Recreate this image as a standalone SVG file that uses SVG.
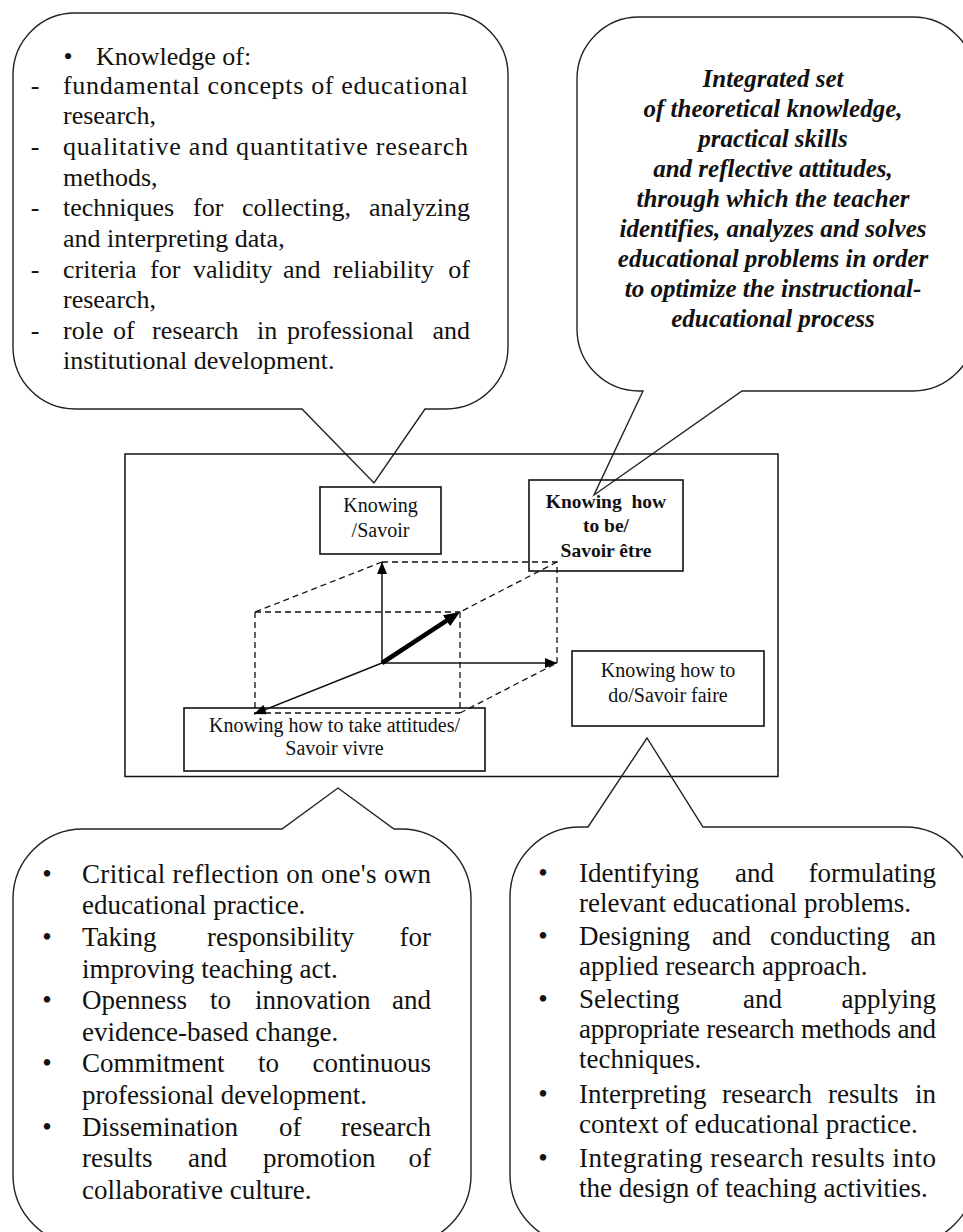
<svg xmlns="http://www.w3.org/2000/svg" width="963" height="1232" viewBox="0 0 963 1232">
<style>
  .bg { fill: #ffffff; }
  .callout { fill: none; stroke: #222; stroke-width: 1.4; stroke-linejoin: miter; }
  .box { fill: none; stroke: #111; stroke-width: 1.6; }
  .frame { fill: none; stroke: #111; stroke-width: 1.5; }
  .dash { fill: none; stroke: #111; stroke-width: 1.3; stroke-dasharray: 6 4; }
  .arrow { fill: none; stroke: #111; stroke-width: 1.5; }
  .thick { fill: none; stroke: #000; stroke-width: 4.5; }
  .t { font-family: "Liberation Serif", "Times New Roman", serif; fill: #111; }
  .tl { font-size: 26px; }
  .bt { font-size: 27px; }
  .def { font-size: 25px; font-weight: bold; font-style: italic; text-anchor: middle; }
  .lab { font-size: 20px; text-anchor: middle; }
  .labb { font-size: 19.5px; font-weight: bold; text-anchor: middle; }
  .mid { text-anchor: middle; }
  .end { text-anchor: end; }
</style>
<defs>
  <marker id="ah" markerUnits="userSpaceOnUse" markerWidth="13" markerHeight="10" refX="12" refY="5" orient="auto">
    <path d="M0,0 L12,5 L0,10 z" fill="#000"/>
  </marker>
  <marker id="ahThick" markerUnits="userSpaceOnUse" markerWidth="17" markerHeight="13" refX="1" refY="6.5" orient="auto">
    <path d="M0,0 L16,6.5 L0,13 z" fill="#000"/>
  </marker>
</defs>
<rect class="bg" x="0" y="0" width="963" height="1232"/>

<g id="callout-knowledge">
  <path class="callout" d="M 75 13 H 446 A 62 62 0 0 1 508 75 V 347 A 62 62 0 0 1 446 409 H 425 L 374 483 L 302 409 H 75 A 62 62 0 0 1 13 347 V 75 A 62 62 0 0 1 75 13 Z"/>
  <text class="t tl mid" x="68" y="65">•</text>
  <text class="t tl" x="96" y="65">Knowledge of:</text>
  <text class="t tl mid" x="35" y="93.5">-</text>
  <text class="t tl" x="63" y="93.5" textLength="405" lengthAdjust="spacing">fundamental concepts of educational</text>
  <text class="t tl" x="63" y="124">research,</text>
  <text class="t tl mid" x="35" y="155">-</text>
  <text class="t tl" x="63" y="155" textLength="405" lengthAdjust="spacing">qualitative and quantitative research</text>
  <text class="t tl" x="63" y="185.5">methods,</text>
  <text class="t tl mid" x="35" y="216">-</text>
  <text class="t tl" x="63" y="216">techniques</text>
  <text class="t tl" x="193" y="216">for</text>
  <text class="t tl" x="242" y="216">collecting,</text>
  <text class="t tl end" x="470" y="216">analyzing</text>
  <text class="t tl" x="63" y="246.5">and interpreting data,</text>
  <text class="t tl mid" x="35" y="277.5">-</text>
  <text class="t tl" x="63" y="277.5">criteria</text>
  <text class="t tl" x="150" y="277.5">for</text>
  <text class="t tl" x="193" y="277.5">validity</text>
  <text class="t tl" x="283" y="277.5">and</text>
  <text class="t tl" x="333" y="277.5">reliability</text>
  <text class="t tl end" x="470" y="277.5">of</text>
  <text class="t tl" x="63" y="308">research,</text>
  <text class="t tl mid" x="35" y="338.5">-</text>
  <text class="t tl" x="63" y="338.5">role</text>
  <text class="t tl" x="113" y="338.5">of</text>
  <text class="t tl" x="152" y="338.5">research</text>
  <text class="t tl" x="257" y="338.5">in</text>
  <text class="t tl" x="287" y="338.5">professional</text>
  <text class="t tl end" x="470" y="338.5">and</text>
  <text class="t tl" x="63" y="369">institutional development.</text>
</g>

<g id="callout-definition">
  <path class="callout" d="M 639 17 H 913 A 62 62 0 0 1 975 79 V 329 A 62 62 0 0 1 913 391 H 742 L 594 495 L 643 391 H 639 A 62 62 0 0 1 577 329 V 79 A 62 62 0 0 1 639 17 Z"/>
  <text class="t def" x="773" y="87">Integrated set</text>
  <text class="t def" x="773" y="117">of theoretical knowledge,</text>
  <text class="t def" x="773" y="147">practical skills</text>
  <text class="t def" x="773" y="177">and reflective attitudes,</text>
  <text class="t def" x="773" y="207">through which the teacher</text>
  <text class="t def" x="773" y="236.5">identifies, analyzes and solves</text>
  <text class="t def" x="773" y="266.5">educational problems in order</text>
  <text class="t def" x="773" y="296.5">to optimize the instructional-</text>
  <text class="t def" x="773" y="326.5">educational process</text>
</g>

<g id="frame">
  <rect class="frame" x="125" y="454" width="653" height="322.5"/>
</g>

<g id="node-savoir">
  <rect class="box" x="320" y="487" width="121" height="67"/>
  <text class="t lab" x="380.5" y="512">Knowing</text>
  <text class="t lab" x="380.5" y="537">/Savoir</text>
</g>

<g id="node-savoir-etre">
  <rect class="box" x="529" y="480" width="154" height="91"/>
  <text class="t labb" x="606" y="508" xml:space="preserve">Knowing  how</text>
  <text class="t labb" x="606" y="532">to be/</text>
  <text class="t labb" x="606" y="557">Savoir être</text>
</g>

<g id="node-savoir-faire">
  <rect class="box" x="572" y="651" width="192" height="75"/>
  <text class="t lab" x="668" y="677">Knowing how to</text>
  <text class="t lab" x="668" y="702">do/Savoir faire</text>
</g>

<g id="node-savoir-vivre">
  <rect class="box" x="184" y="708" width="301" height="63"/>
  <text class="t lab" x="334.5" y="732">Knowing how to take attitudes/</text>
  <text class="t lab" x="334.5" y="755">Savoir vivre</text>
</g>

<g id="connectors">
  <path class="dash" d="M 382 562 H 557 V 663"/>
  <path class="dash" d="M 382 562 L 255 612"/>
  <path class="dash" d="M 255 612 H 460"/>
  <path class="dash" d="M 557 562 L 460 612"/>
  <path class="dash" d="M 255 612 V 713"/>
  <path class="dash" d="M 460 612 V 713"/>
  <path class="dash" d="M 255 713 H 460"/>
  <path class="dash" d="M 460 713 L 557 663"/>
  <path class="arrow" d="M 382 663 V 562" marker-end="url(#ah)"/>
  <path class="arrow" d="M 382 663 H 557" marker-end="url(#ah)"/>
  <path class="arrow" d="M 382 663 L 254 714" marker-end="url(#ah)"/>
  <path class="thick" d="M 382 663 L 447.4 620.2" marker-end="url(#ahThick)"/>
</g>

<g id="callout-attitudes">
  <path class="callout" d="M 83 829 H 282 L 338 788 L 394 829 H 401 A 70 70 0 0 1 471 899 V 1175 A 70 70 0 0 1 401 1245 H 83 A 70 70 0 0 1 13 1175 V 899 A 70 70 0 0 1 83 829 Z"/>
  <text class="t bt mid" x="47" y="882.7">•</text>
  <text class="t bt" x="82" y="882.7" textLength="349" lengthAdjust="spacing">Critical reflection on one's own</text>
  <text class="t bt" x="82" y="914.3">educational practice.</text>
  <text class="t bt mid" x="47" y="945.9">•</text>
  <text class="t bt" x="82" y="945.9">Taking</text>
  <text class="t bt" x="207" y="945.9">responsibility</text>
  <text class="t bt end" x="431" y="945.9">for</text>
  <text class="t bt" x="82" y="977.5">improving teaching act.</text>
  <text class="t bt mid" x="47" y="1009.1">•</text>
  <text class="t bt" x="82" y="1009.1">Openness</text>
  <text class="t bt" x="210" y="1009.1">to</text>
  <text class="t bt" x="255" y="1009.1">innovation</text>
  <text class="t bt end" x="431" y="1009.1">and</text>
  <text class="t bt" x="82" y="1040.7">evidence-based change.</text>
  <text class="t bt mid" x="47" y="1072.3">•</text>
  <text class="t bt" x="82" y="1072.3">Commitment</text>
  <text class="t bt" x="258" y="1072.3">to</text>
  <text class="t bt end" x="431" y="1072.3">continuous</text>
  <text class="t bt" x="82" y="1103.9">professional development.</text>
  <text class="t bt mid" x="47" y="1135.5">•</text>
  <text class="t bt" x="82" y="1135.5">Dissemination</text>
  <text class="t bt" x="279" y="1135.5">of</text>
  <text class="t bt end" x="431" y="1135.5">research</text>
  <text class="t bt" x="82" y="1167.1">results</text>
  <text class="t bt" x="188" y="1167.1">and</text>
  <text class="t bt" x="263" y="1167.1">promotion</text>
  <text class="t bt end" x="431" y="1167.1">of</text>
  <text class="t bt" x="82" y="1198.7">collaborative culture.</text>
</g>

<g id="callout-skills">
  <path class="callout" d="M 580 827 H 588 L 647 738 L 703 827 H 905 A 70 70 0 0 1 975 897 V 1175 A 70 70 0 0 1 905 1245 H 580 A 70 70 0 0 1 510 1175 V 897 A 70 70 0 0 1 580 827 Z"/>
  <text class="t bt mid" x="543" y="881.7">•</text>
  <text class="t bt" x="579" y="881.7">Identifying</text>
  <text class="t bt" x="735" y="881.7">and</text>
  <text class="t bt end" x="936" y="881.7">formulating</text>
  <text class="t bt" x="579" y="911.7">relevant educational problems.</text>
  <text class="t bt mid" x="543" y="945">•</text>
  <text class="t bt" x="579" y="945">Designing</text>
  <text class="t bt" x="712" y="945">and</text>
  <text class="t bt" x="770" y="945">conducting</text>
  <text class="t bt end" x="936" y="945">an</text>
  <text class="t bt" x="579" y="975">applied research approach.</text>
  <text class="t bt mid" x="543" y="1008.3">•</text>
  <text class="t bt" x="579" y="1008.3">Selecting</text>
  <text class="t bt" x="743" y="1008.3">and</text>
  <text class="t bt end" x="936" y="1008.3">applying</text>
  <text class="t bt" x="579" y="1038.3" textLength="357" lengthAdjust="spacing">appropriate research methods and</text>
  <text class="t bt" x="579" y="1068.3">techniques.</text>
  <text class="t bt mid" x="543" y="1103.3">•</text>
  <text class="t bt" x="579" y="1103.3">Interpreting</text>
  <text class="t bt" x="722" y="1103.3">research</text>
  <text class="t bt" x="828" y="1103.3">results</text>
  <text class="t bt end" x="936" y="1103.3">in</text>
  <text class="t bt" x="579" y="1133.3">context of educational practice.</text>
  <text class="t bt mid" x="543" y="1166.7">•</text>
  <text class="t bt" x="579" y="1166.7" textLength="357" lengthAdjust="spacing">Integrating research results into</text>
  <text class="t bt" x="579" y="1196.7">the design of teaching activities.</text>
</g>
</svg>
